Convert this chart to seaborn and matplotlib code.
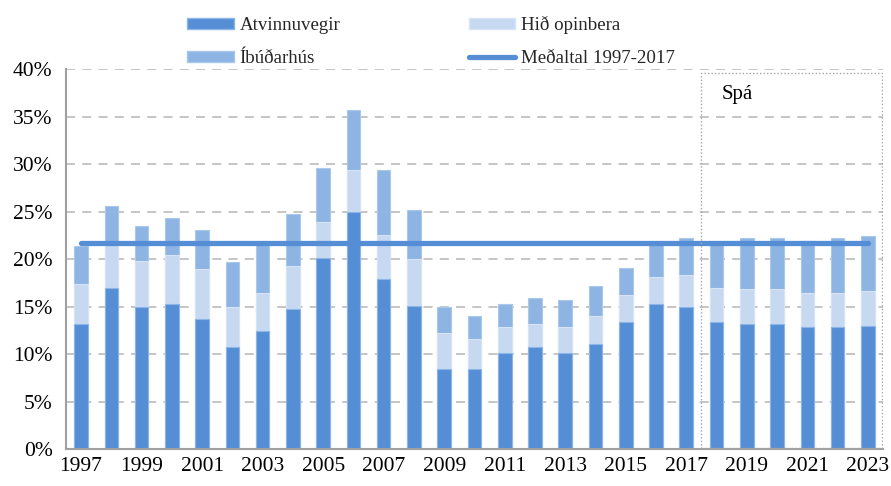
import numpy as np
import pandas as pd
import matplotlib
matplotlib.use("Agg")
import matplotlib.pyplot as plt
import seaborn as sns
from matplotlib.patches import Patch, Rectangle
from matplotlib.lines import Line2D

# gögn (hlutfall af VLF, %)
years = [str(y) for y in range(1997, 2024)]
atvinnuvegir = [13.2, 17.0, 14.9, 15.3, 13.65, 10.7, 12.4, 14.7, 20.1, 25.0, 17.9, 15.1, 8.4, 8.4,
                10.1, 10.7, 10.1, 11.1, 13.4, 15.3, 14.9, 13.4, 13.2, 13.2, 12.8, 12.8, 13.0]
hid_opinbera = [4.2, 4.6, 4.9, 5.1, 5.25, 4.2, 4.0, 4.6, 3.8, 4.4, 4.6, 4.9, 3.8, 3.2,
                2.7, 2.5, 2.7, 2.9, 2.8, 2.8, 3.4, 3.6, 3.6, 3.6, 3.6, 3.6, 3.6]
ibudarhus = [4.0, 4.0, 3.7, 3.9, 4.15, 4.8, 5.1, 5.4, 5.7, 6.3, 6.9, 5.2, 2.7, 2.4,
             2.5, 2.7, 2.9, 3.2, 2.9, 3.4, 3.9, 4.8, 5.4, 5.4, 5.5, 5.8, 5.8]
medaltal = 21.7
spa_start = "2018"

df = pd.DataFrame({"ar": years, "atv": atvinnuvegir, "hid": hid_opinbera, "ibud": ibudarhus})
df["lag2"] = df["atv"] + df["hid"]
df["lag3"] = df["lag2"] + df["ibud"]

c_atv = "#558ED5"
c_hid = "#C6D9F1"
c_ibud = "#8EB4E3"

sns.set_theme(style="white")
plt.rcParams["font.family"] = ["Liberation Serif", "DejaVu Serif"]

fig = plt.figure(figsize=(8.91, 4.86), dpi=100)
ax = fig.add_axes([0.074, 0.076, 0.917, 0.782])

ax.yaxis.grid(True, linestyle=(0, (5, 4)), color="#C0C0C0", linewidth=1.3)
ax.set_axisbelow(True)

w = 0.45
sns.barplot(data=df, x="ar", y="lag3", color=c_ibud, saturation=1, width=w, edgecolor="#A9C8EC", linewidth=0.8, ax=ax, zorder=2)
sns.barplot(data=df, x="ar", y="lag2", color=c_hid, saturation=1, width=w, edgecolor="#D6E4F5", linewidth=0.8, ax=ax, zorder=2)
sns.barplot(data=df, x="ar", y="atv", color=c_atv, saturation=1, width=w, edgecolor="#8DB6E8", linewidth=0.8, ax=ax, zorder=2)

# meðaltal
sns.lineplot(x=[0, len(years) - 1], y=[medaltal, medaltal], color=c_atv, linewidth=3.8,
             solid_capstyle="round", ax=ax, zorder=3)

# spá-rammi
i0 = years.index(spa_start) - 0.5
ax.add_patch(Rectangle((i0, 0.15), len(years) - 0.5 - i0 - 0.02, 39.45, fill=False,
                       linestyle=(0, (1, 1.5)), edgecolor="#A6A6A6", linewidth=1.0, zorder=4))
ax.text(i0 + 1.2, 37.3, "Spá", fontsize=15, ha="center", va="center", color="#000000")

ax.set_xlim(-0.5, len(years) - 0.5)
ax.set_ylim(0, 40)
ax.set_yticks(range(0, 41, 5))
ax.set_yticklabels([f"{v}%" for v in range(0, 41, 5)], fontsize=15.5)
ax.set_xticks(range(0, len(years), 2))
ax.set_xticklabels(years[::2], fontsize=15.5)
ax.set_xticks(np.arange(-0.5, len(years), 1), minor=True)
ax.tick_params(axis="x", which="major", length=0, pad=6, colors="#000000")
ax.tick_params(axis="x", which="minor", length=4.3, width=1.2, color="#A0A0A0", direction="out")
ax.tick_params(axis="y", length=3.6, width=1.2, color="#A0A0A0", direction="out", pad=6, labelcolor="#000000")
ax.set_xlabel("")
ax.set_ylabel("")

for s in ["top", "right"]:
    ax.spines[s].set_visible(False)
for s in ["left", "bottom"]:
    ax.spines[s].set_color("#A0A0A0")
    ax.spines[s].set_linewidth(1.5)

# röð fyrir ncol=2 (fyllist dálk fyrir dálk)
handles = [
    Patch(facecolor=c_atv, edgecolor="#8DB6E8", label="Atvinnuvegir"),
    Patch(facecolor=c_ibud, edgecolor="#A9C8EC", label="Íbúðarhús"),
    Patch(facecolor=c_hid, edgecolor="#D6E4F5", label="Hið opinbera"),
    Line2D([0], [0], color=c_atv, linewidth=3.8, solid_capstyle="round", label="Meðaltal 1997-2017"),
]
fig.legend(handles=handles, ncol=2, loc="center", bbox_to_anchor=(0.484, 0.914),
           frameon=False, fontsize=13.6, handlelength=2.45, handleheight=0.55,
           handletextpad=0.32, columnspacing=6.8, labelspacing=0.85)

fig.savefig("out.png", dpi=100)
